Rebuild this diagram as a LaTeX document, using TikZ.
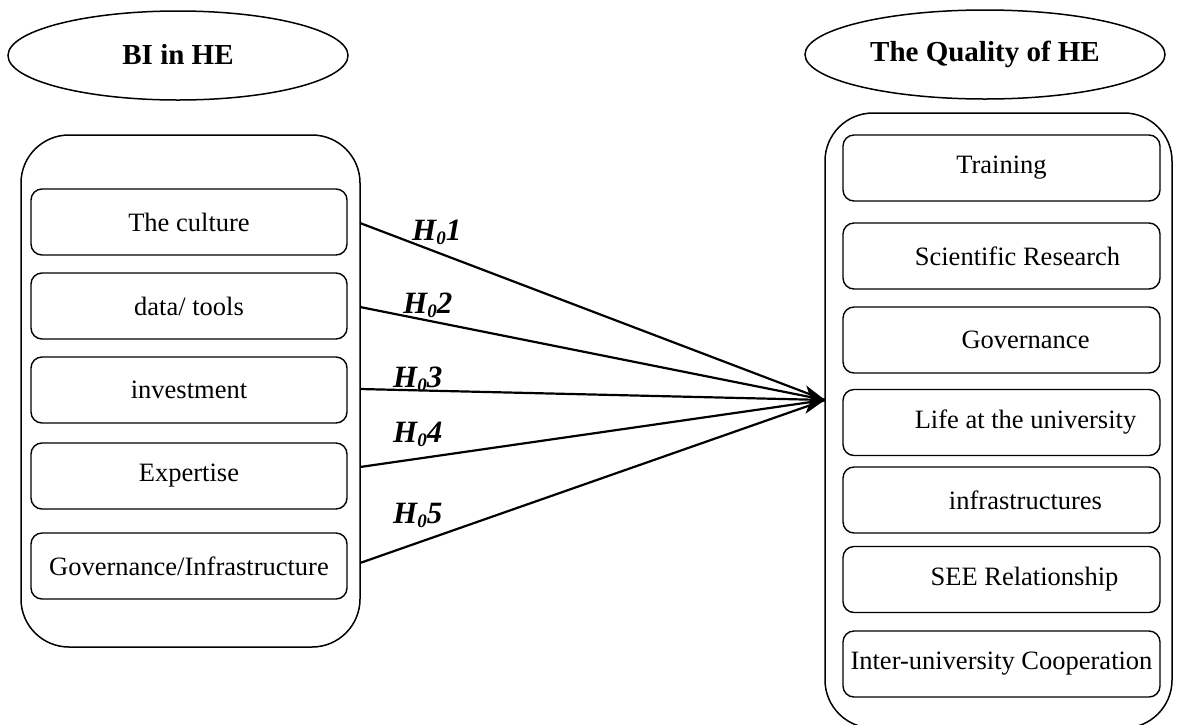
\documentclass[tikz,border=0pt]{standalone}
\usepackage{fontspec}
\setmainfont{Liberation Serif}
\usetikzlibrary{shapes.geometric,arrows.meta}
\begin{document}
\begin{tikzpicture}[x=1pt,y=-1pt,
  item/.style={draw,line width=1.4pt,rounded corners=11pt,minimum width=316pt,minimum height=66pt,inner sep=0pt,font=\fontsize{26.5}{30}\selectfont},
  group/.style={draw,line width=1.5pt,rounded corners=48pt,inner sep=0pt},
  titlebox/.style={draw,ellipse,line width=1.5pt,inner sep=0pt,font=\fontsize{29}{34}\selectfont\bfseries},
  hlink/.style={line width=2.2pt},
  hlabel/.style={anchor=base west,font=\fontsize{31}{36}\selectfont\bfseries\itshape,inner sep=0pt}]
\useasboundingbox (0,0) rectangle (1177,724);
\clip (0,0) rectangle (1177,724);
% titles
\node[titlebox,minimum width=340pt,minimum height=89pt] (t1) at (178,55.5) {\raisebox{3pt}{BI in HE}};
\node[titlebox,minimum width=360pt,minimum height=89pt] (t2) at (985,54.5) {The Quality of HE};
% groups
\node[group,minimum width=339pt,minimum height=512pt] (lg) at (190.5,391) {};
\node[group,minimum width=347pt,minimum height=615pt] (rg) at (998.5,420.5) {};
% left items
\node[item] (l1) at (189,222) {The culture};
\node[item] (l2) at (189,306) {data/ tools};
\node[item] (l3) at (189,390) {investment};
\node[item] (l4) at (189,476) {Expertise};
\node[item] (l5) at (189,566) {Governance/Infrastructure};
% right items
\node[item,minimum width=317pt] (r1) at (1001.5,168) {Training};
\node[item,minimum width=317pt] (r2) at (1001.5,256) {\hspace*{32pt}Scientific Research};
\node[item,minimum width=317pt] (r3) at (1001.5,340) {\hspace*{48pt}Governance};
\node[item,minimum width=317pt] (r4) at (1001.5,422.5) {\hspace*{48pt}Life at the university};
\node[item,minimum width=317pt] (r5) at (1001.5,500) {\hspace*{48pt}infrastructures};
\node[item,minimum width=317pt] (r6) at (1001.5,579.5) {\hspace*{46pt}SEE Relationship};
\node[item,minimum width=317pt] (r7) at (1001.5,664) {Inter-university Cooperation};
% connectors
\coordinate (tip) at (825,400);
\coordinate (s1) at (360,223);
\coordinate (s2) at (360,307);
\coordinate (s3) at (360,389);
\coordinate (s4) at (360,467);
\coordinate (s5) at (360,563);
\draw[hlink] (s1) -- (tip);
\draw[hlink] (s2) -- (tip);
\draw[hlink] (s4) -- (tip);
\draw[hlink] (s5) -- (tip);
\draw[hlink,-{Stealth[length=19pt,width=28pt,inset=5pt]}] (s3) -- (tip);
% labels
\node[hlabel] (h1) at (412,240) {H\raisebox{-4pt}{\fontsize{19}{19}\selectfont 0}1};
\node[hlabel] (h2) at (403,313) {H\raisebox{-4pt}{\fontsize{19}{19}\selectfont 0}2};
\node[hlabel] (h3) at (393,387) {H\raisebox{-4pt}{\fontsize{19}{19}\selectfont 0}3};
\node[hlabel] (h4) at (393,442) {H\raisebox{-4pt}{\fontsize{19}{19}\selectfont 0}4};
\node[hlabel] (h5) at (393,523) {H\raisebox{-4pt}{\fontsize{19}{19}\selectfont 0}5};
\end{tikzpicture}
\end{document}
